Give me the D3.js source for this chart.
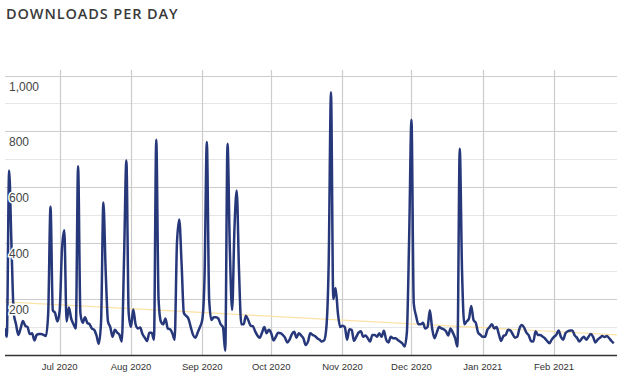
<!DOCTYPE html>
<html><head><meta charset="utf-8">
<script src="https://cdn.jsdelivr.net/npm/d3@7"></script>
<style>
html,body{margin:0;padding:0;background:#fff;}
svg{display:block;}
</style></head>
<body>
<svg id="chart" width="622" height="378"></svg>
<script>
const title = "DOWNLOADS PER DAY";
const startDate = "2020-06-07";
const downloads = [
95,65,660,400,150,110,72,95,122,105,100,75,78,52,72,75,75,72,68,150,
530,160,150,120,160,380,446,120,170,130,110,95,675,150,115,135,115,110,95,90,
70,40,120,546,300,120,100,65,90,80,72,48,350,696,150,100,163,110,95,98,
75,62,50,80,80,55,770,200,120,110,131,95,92,78,55,400,485,330,150,140,
130,100,72,62,80,100,125,280,762,200,125,135,135,130,110,100,15,756,380,161,
450,589,300,110,110,140,125,105,103,85,70,62,80,100,78,90,78,52,65,80,
78,72,62,45,55,75,83,62,78,70,60,36,48,78,72,68,60,55,48,52,
100,330,940,200,240,150,100,105,100,55,92,90,50,65,80,85,65,70,60,48,
72,72,65,78,65,87,55,45,65,60,60,54,48,42,30,80,420,842,185,140,
110,110,115,95,100,160,95,60,80,100,95,92,85,70,95,80,60,30,738,300,
110,120,130,175,125,115,80,72,65,65,90,100,110,95,100,75,50,68,72,90,
88,75,62,65,95,107,98,80,70,50,48,85,72,72,66,60,50,42,55,65,
72,88,65,55,78,85,88,88,70,62,48,58,65,55,65,75,65,45,55,62,
68,64,68,60,50,42
];
const trendValues = [190, 72];
const yTicks = [200, 400, 600, 800, 1000];
const yGrid = [100,200,300,400,500,600,700,800,900,1000];
const monthTicks = ["2020-07-01","2020-08-01","2020-09-01","2020-10-01","2020-11-01","2020-12-01","2021-01-01","2021-02-01"];

const parse = d3.timeParse("%Y-%m-%d");
const start = parse(startDate);
const data = downloads.map((v, i) => ({date: d3.timeDay.offset(start, i), value: v}));
const ticks = monthTicks.map(parse);

const svg = d3.select("#chart");
const plotLeft = 5, plotRight = 617, plotTop = 70, plotBottom = 355;

const x = d3.scaleTime().domain([ticks[0], ticks[ticks.length - 1]]).range([59.7, 554]);
const y = d3.scaleLinear().domain([0, 1000]).range([plotBottom, 75.5]);

svg.append("text")
  .attr("x", 6).attr("y", 18.5)
  .attr("font-family", "Open Sans, sans-serif")
  .attr("font-weight", 600).attr("font-size", 14.5)
  .attr("letter-spacing", 0.9)
  .attr("fill", "#3a3a3a")
  .text(title);

svg.append("defs").append("clipPath").attr("id", "clip")
  .append("rect").attr("x", plotLeft).attr("y", 0).attr("width", plotRight - plotLeft).attr("height", plotBottom + 1);

// horizontal grid
svg.append("g").selectAll("line").data(yGrid).join("line")
  .attr("x1", plotLeft).attr("x2", plotRight)
  .attr("y1", d => Math.round(y(d)) + 0.5).attr("y2", d => Math.round(y(d)) + 0.5)
  .attr("stroke", d => d % 200 === 0 ? "#cccccc" : "#e6e6e6")
  .attr("stroke-width", 1);

// vertical grid
svg.append("g").selectAll("line").data(ticks).join("line")
  .attr("x1", d => Math.round(x(d)) + 0.5).attr("x2", d => Math.round(x(d)) + 0.5)
  .attr("y1", plotTop).attr("y2", plotBottom)
  .attr("stroke", "#cccccc").attr("stroke-width", 1.2);

// trend line
const trendDates = [data[0].date, data[data.length - 1].date];
svg.append("line")
  .attr("clip-path", "url(#clip)")
  .attr("x1", x(trendDates[0])).attr("y1", y(trendValues[0]))
  .attr("x2", plotRight).attr("y2", y(trendValues[1]))
  .attr("stroke", "#fde2a6").attr("stroke-width", 1.2);

// data line
const line = d3.line().x(d => x(d.date)).y(d => y(d.value)).curve(d3.curveMonotoneX);
svg.append("path").datum(data)
  .attr("clip-path", "url(#clip)")
  .attr("d", line)
  .attr("fill", "none")
  .attr("stroke", "#26377a")
  .attr("stroke-width", 2.5)
  .attr("stroke-linejoin", "round");

// y labels
svg.append("g").selectAll("text").data(yTicks).join("text")
  .attr("x", 9).attr("y", d => y(d) + 15)
  .attr("font-family", "Arial, Liberation Sans, sans-serif")
  .attr("font-size", 12)
  .attr("fill", "#444")
  .attr("stroke", "#fff").attr("stroke-width", 3).attr("paint-order", "stroke")
  .text(d => d3.format(",")(d));

// x axis line
svg.append("line")
  .attr("x1", plotLeft).attr("x2", plotRight)
  .attr("y1", plotBottom + 0.5).attr("y2", plotBottom + 0.5)
  .attr("stroke", "#333").attr("stroke-width", 1.5);

// x labels
const fmt = d3.timeFormat("%b %Y");
svg.append("g").selectAll("text").data(ticks).join("text")
  .attr("x", d => x(d)).attr("y", 369.5)
  .attr("text-anchor", "middle")
  .attr("font-family", "Arial, Liberation Sans, sans-serif")
  .attr("font-size", 9.5)
  .attr("fill", "#333")
  .text(d => fmt(d));
</script>
</body></html>
